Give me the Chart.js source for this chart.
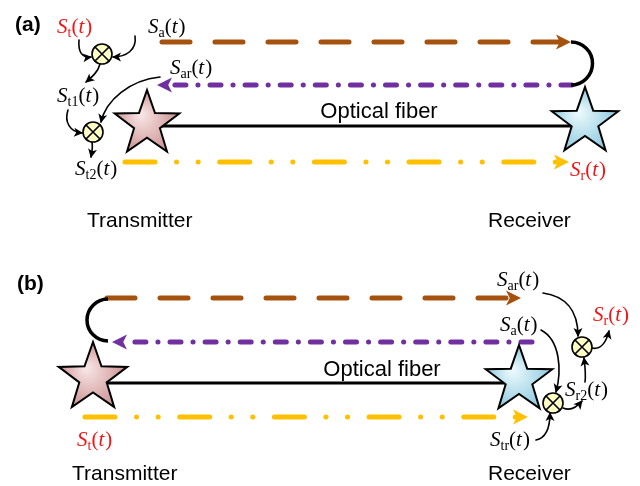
<!DOCTYPE html>
<html>
<head>
<meta charset="utf-8">
<script src="https://cdn.jsdelivr.net/npm/chart.js@4/dist/chart.umd.min.js"></script>
<style>
  html, body { margin: 0; padding: 0; background: #fff; }
  canvas { display: block; }
</style>
</head>
<body>
<canvas id="myChart" width="640" height="486"></canvas>
<script>
// diagram units: x to the right, y downwards, 640 x 486
const brownA = [[162, 42], [560, 42]]
const purpleA = [[572, 85], [168, 85]]
const fiberA = [[147, 126], [585, 126]]
const goldA = [[125, 162], [558, 162]]

const brownB = [[107, 298], [510, 298]]
const purpleB = [[532, 342], [123, 342]]
const fiberB = [[93, 383], [519, 383]]
const goldB = [[85, 417], [517, 417]]

// [cx, cy, outer radius, kind]
const stars = [[147, 124, 34, 'tx'], [585, 122, 35, 'rx'], [93, 378, 36, 'tx'], [519, 380, 35, 'rx']]
// [cx, cy, r, side]
const loops = [[571, 63.5, 21.5, 'right'], [108, 320, 21, 'left']]
const mixers = [[102, 54], [93, 132], [582, 347], [553, 403]]

// cubic curves with an arrow at the end: x0,y0, c1x,c1y, c2x,c2y, x1,y1
const arrowsA = [
  [79, 40, 78, 52, 82, 58, 91, 57],
  [135, 36, 137, 50, 126, 57, 113, 57],
  [100, 64, 98, 72, 92, 77, 86, 82],
  [68, 110, 64, 122, 70, 132, 82, 133],
  [160, 77, 130, 80, 106, 100, 101, 122],
  [92, 142, 93, 148, 92, 152, 91, 157]
]
const arrowsB = [
  [543, 293, 565, 296, 578, 310, 578, 336],
  [541, 330, 560, 340, 562, 370, 556, 392],
  [536, 440, 546, 438, 550, 428, 550, 413],
  [563, 408, 570, 411, 577, 407, 582, 401],
  [585, 382, 586, 375, 585, 366, 584, 358],
  [592, 348, 600, 350, 606, 343, 609, 331]
]

// signal labels: subscript, left x, baseline y, red?
const signals = [
  ['t', 57, 33, true], ['a', 148, 33, false], ['ar', 170, 74, false],
  ['t1', 57, 102, false], ['t2', 75, 175, false], ['r', 570, 176, true],
  ['ar', 497, 286, false], ['a', 500, 331, false], ['r', 593, 321, true],
  ['r2', 565, 396, false], ['tr', 490, 446, false], ['t', 77, 446, true]
]
// plain text: text, x, baseline y, align, font
const texts = [
  ['(a)', 15, 31, 'left', 'bold 21px "Liberation Sans"'],
  ['(b)', 17, 290, 'left', 'bold 21px "Liberation Sans"'],
  ['Optical fiber', 379, 118, 'center', '22px "Liberation Sans"'],
  ['Optical fiber', 382, 376, 'center', '22px "Liberation Sans"'],
  ['Transmitter', 87, 227, 'left', '21px "Liberation Sans"'],
  ['Receiver', 488, 227, 'left', '21px "Liberation Sans"'],
  ['Transmitter', 72, 480, 'left', '21px "Liberation Sans"'],
  ['Receiver', 488, 480, 'left', '21px "Liberation Sans"']
]

const BROWN = '#A5520F'
const PURPLE = '#7030A0'
const GOLD = '#FFC000'
const RED = '#F01414'

function pts(arr) {
  return arr.map(p => ({ x: p[0], y: p[1] }))
}

function line(arr, color, width, dash, arrow) {
  return {
    data: pts(arr),
    showLine: true,
    borderColor: color,
    borderWidth: width,
    borderDash: dash,
    borderCapStyle: dash.length ? 'round' : 'butt',
    pointRadius: 0,
    arrow: arrow
  }
}

const brownDash = [28, 25]
const purpleDash = [11, 12, 0.1, 12]
const goldDash = [30, 21.5, 0.1, 21.5, 0.1, 21.5]

const diagram = {
  id: 'diagram',
  afterDatasetsDraw(chart) {
    const ctx = chart.ctx
    const X = v => chart.scales.x.getPixelForValue(v)
    const Y = v => chart.scales.y.getPixelForValue(v)

    function head(x0, y0, x1, y1, len, half, color, ahead) {
      const a = Math.atan2(y1 - y0, x1 - x0)
      const c = Math.cos(a), s = Math.sin(a)
      const tx = x1 + c * ahead, ty = y1 + s * ahead
      const bx = tx - c * len, by = ty - s * len
      ctx.beginPath()
      ctx.moveTo(tx, ty)
      ctx.lineTo(bx - s * half, by + c * half)
      ctx.lineTo(bx + c * len * 0.25, by + s * len * 0.25)
      ctx.lineTo(bx + s * half, by - c * half)
      ctx.closePath()
      ctx.fillStyle = color
      ctx.fill()
    }

    ctx.save()

    // arrowheads of the long coloured paths
    chart.data.datasets.forEach(ds => {
      if (!ds.arrow) return
      const n = ds.data.length
      const p0 = ds.data[n - 2], p1 = ds.data[n - 1]
      head(X(p0.x), Y(p0.y), X(p1.x), Y(p1.y), 15, 7.5, ds.borderColor, 11)
    })

    // loop-backs at the far ends
    loops.forEach(l => {
      ctx.beginPath()
      if (l[3] === 'right') ctx.arc(X(l[0]), Y(l[1]), l[2], -Math.PI / 2, Math.PI / 2)
      else ctx.arc(X(l[0]), Y(l[1]), l[2], Math.PI / 2, Math.PI * 1.5)
      ctx.strokeStyle = '#000'
      ctx.lineWidth = 3.5
      ctx.lineCap = 'butt'
      ctx.stroke()
    })

    // stars
    stars.forEach(st => {
      const cx = X(st[0]), cy = Y(st[1]), R = st[2], r = R * 0.4
      ctx.beginPath()
      for (let i = 0; i < 10; i++) {
        const rad = i % 2 ? r : R
        const a = -Math.PI / 2 + i * Math.PI / 5
        const px = cx + rad * Math.cos(a), py = cy + rad * Math.sin(a)
        if (i === 0) ctx.moveTo(px, py)
        else ctx.lineTo(px, py)
      }
      ctx.closePath()
      const g = ctx.createRadialGradient(cx - R * 0.2, cy - R * 0.3, 2, cx, cy, R)
      if (st[3] === 'tx') {
        g.addColorStop(0, '#F8E4E4')
        g.addColorStop(1, '#C98C8C')
      } else {
        g.addColorStop(0, '#EAF8FC')
        g.addColorStop(1, '#86C6DC')
      }
      ctx.fillStyle = g
      ctx.fill()
      ctx.strokeStyle = '#000'
      ctx.lineWidth = 2
      ctx.lineJoin = 'miter'
      ctx.stroke()
    })

    // thin signal arrows
    arrowsA.concat(arrowsB).forEach(c => {
      ctx.beginPath()
      ctx.moveTo(X(c[0]), Y(c[1]))
      ctx.bezierCurveTo(X(c[2]), Y(c[3]), X(c[4]), Y(c[5]), X(c[6]), Y(c[7]))
      ctx.strokeStyle = '#000'
      ctx.lineWidth = 1.6
      ctx.lineCap = 'round'
      ctx.stroke()
      head(X(c[4]), Y(c[5]), X(c[6]), Y(c[7]), 9, 4.5, '#000', 1)
    })

    // mixers
    mixers.forEach(m => {
      const cx = X(m[0]), cy = Y(m[1]), r = 10
      ctx.beginPath()
      ctx.arc(cx, cy, r, 0, Math.PI * 2)
      ctx.fillStyle = '#FFFFC4'
      ctx.fill()
      ctx.strokeStyle = '#000'
      ctx.lineWidth = 1.6
      ctx.stroke()
      const d = r * 0.7
      ctx.beginPath()
      ctx.moveTo(cx - d, cy - d); ctx.lineTo(cx + d, cy + d)
      ctx.moveTo(cx + d, cy - d); ctx.lineTo(cx - d, cy + d)
      ctx.lineWidth = 1.6
      ctx.stroke()
    })

    // signal names S_x(t)
    ctx.textBaseline = 'alphabetic'
    ctx.textAlign = 'left'
    signals.forEach(s => {
      let x = X(s[1])
      const y = Y(s[2])
      ctx.fillStyle = s[3] ? RED : '#000'
      const part = (txt, font, dy) => {
        ctx.font = font
        ctx.fillText(txt, x, y + dy)
        x += ctx.measureText(txt).width
      }
      part('S', 'italic 21px "Liberation Serif"', 0)
      part(s[0], '14px "Liberation Serif"', 4)
      part('(', '21px "Liberation Serif"', 0)
      part('t', 'italic 21px "Liberation Serif"', 0)
      x += 1
      part(')', '21px "Liberation Serif"', 0)
    })

    texts.forEach(t => {
      ctx.font = t[4]
      ctx.textAlign = t[3]
      ctx.fillStyle = '#000'
      ctx.fillText(t[0], X(t[1]), Y(t[2]))
    })

    ctx.restore()
  }
}

const canvas = document.getElementById('myChart')

const config = {
  type: 'scatter',
  data: {
    datasets: [
      line(fiberA, '#000', 3, [], false),
      line(fiberB, '#000', 3, [], false),
      line(brownA, BROWN, 5, brownDash, true),
      line(purpleA, PURPLE, 5, purpleDash, true),
      line(goldA, GOLD, 5, goldDash, true),
      line(brownB, BROWN, 5, brownDash, true),
      line(purpleB, PURPLE, 5, purpleDash, true),
      line(goldB, GOLD, 5, goldDash, true)
    ]
  },
  options: {
    responsive: false,
    animation: false,
    layout: { padding: 0 },
    scales: {
      x: { type: 'linear', min: 0, max: 640, display: false },
      y: { type: 'linear', min: 0, max: 486, reverse: true, display: false }
    },
    plugins: {
      legend: { display: false },
      tooltip: { enabled: false }
    }
  },
  plugins: [diagram]
}

const myChart = new Chart(canvas, config)
</script>
</body>
</html>
